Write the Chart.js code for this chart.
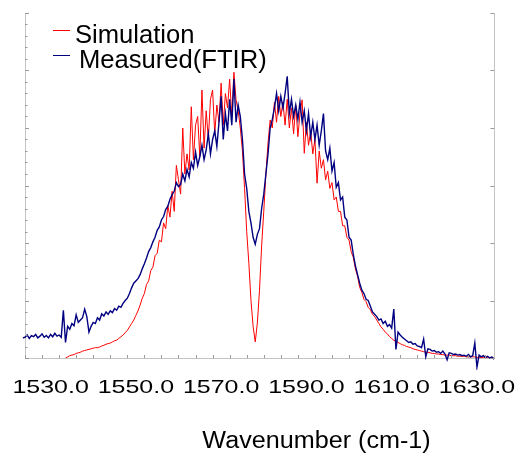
<!DOCTYPE html>
<html>
<head>
<meta charset="utf-8">
<script src="https://cdn.jsdelivr.net/npm/chart.js"></script>
<style>
  html, body { margin: 0; padding: 0; background: #fff; }
  #wrap { width: 520px; height: 453px; position: relative; }
</style>
</head>
<body>
<div id="wrap"><canvas id="chart"></canvas></div>
<script>
// wavenumber grid (cm-1), sampled every 0.5
const waveStep = 0.5;
const simStart = 1533.5;
const ftirStart = 1523.0;

// Simulation (red), from 1533.5 cm-1
const simValues = [
  0.00, 0.02, 0.04, 0.05, 0.06, 0.08, 0.09, 0.10, 0.12, 0.13,
  0.14, 0.15, 0.16, 0.17, 0.18, 0.18, 0.19, 0.21, 0.22, 0.24,
  0.25, 0.26, 0.28, 0.30, 0.31, 0.34, 0.37, 0.40, 0.44, 0.48,
  0.54, 0.60, 0.66, 0.74, 0.82, 0.92, 1.04, 1.12, 1.28, 1.34,
  1.52, 1.58, 1.78, 1.82, 2.05, 2.02, 2.35, 2.25, 2.65, 2.45,
  2.90, 2.55, 3.35, 3.10, 2.85, 4.00, 3.20, 3.55, 3.27, 4.37,
  3.45, 4.05, 4.20, 3.50, 4.66, 3.65, 4.30, 3.80, 4.50, 4.66,
  3.90, 4.40, 4.10, 4.78, 4.05, 4.60, 4.35, 4.85, 4.20, 4.97,
  4.49, 4.30, 4.00, 3.60, 2.95, 2.20, 1.65, 1.00, 0.55, 0.28,
  0.61, 1.18, 1.95, 2.55, 3.20, 3.74, 4.14, 4.00, 4.45, 4.10,
  4.55, 4.20, 4.45, 4.05, 4.50, 4.00, 4.35, 3.90, 4.40, 3.85,
  4.25, 4.49, 3.56, 4.10, 3.70, 3.95, 3.55, 3.80, 3.04, 3.60,
  3.30, 3.45, 3.10, 3.25, 2.95, 3.05, 2.75, 2.80, 2.55, 2.55,
  2.30, 2.30, 2.10, 2.05, 1.85, 1.75, 1.55, 1.42, 1.23, 1.14,
  1.02, 0.98, 0.88, 0.84, 0.76, 0.72, 0.66, 0.60, 0.54, 0.50,
  0.45, 0.42, 0.37, 0.34, 0.31, 0.29, 0.27, 0.25, 0.23, 0.22,
  0.20, 0.19, 0.18, 0.16, 0.15, 0.14, 0.13, 0.12, 0.11, 0.10,
  0.10, 0.09, 0.08, 0.08, 0.07, 0.07, 0.06, 0.06, 0.05, 0.05,
  0.05, 0.04, 0.04, 0.04, 0.03, 0.03, 0.03, 0.03, 0.02, 0.02,
  0.02, 0.02, 0.02, 0.01, 0.01, 0.01, 0.01, 0.01, 0.01, 0.00,
  0.00, 0.00
];

// Measured (FTIR, navy), from 1523.0 cm-1
const ftirValues = [
  0.38, 0.35, 0.36, 0.40, 0.34, 0.39, 0.37, 0.41, 0.35, 0.38,
  0.42, 0.36, 0.39, 0.35, 0.41, 0.37, 0.43, 0.38, 0.40, 0.36,
  0.83, 0.27, 0.55, 0.50, 0.60, 0.56, 0.75, 0.62, 0.66, 0.70,
  0.85, 0.72, 0.45, 0.55, 0.62, 0.60, 0.70, 0.66, 0.77, 0.73,
  0.80, 0.76, 0.82, 0.79, 0.86, 0.83, 0.90, 0.88, 0.95, 1.00,
  1.04, 1.12, 1.22, 1.30, 1.34, 1.38, 1.45, 1.55, 1.64, 1.74,
  1.85, 1.92, 2.02, 2.10, 2.22, 2.28, 2.40, 2.46, 2.58, 2.64,
  2.76, 2.84, 2.90, 3.05, 2.98, 3.02, 3.20, 3.08, 3.28, 3.15,
  3.40, 3.30, 3.58, 3.35, 3.50, 3.70, 3.45, 3.62, 3.90, 3.55,
  3.80, 3.95, 3.68, 4.10, 4.55, 3.80, 4.25, 3.95, 4.50, 4.05,
  4.85, 4.10, 4.40, 4.20, 3.80, 3.20, 2.95, 2.55, 2.35, 2.10,
  1.98, 2.15, 2.25, 2.60, 2.85, 3.20, 3.55, 4.00, 4.15, 4.35,
  4.60, 4.30, 4.55, 4.35, 4.60, 4.90, 4.25, 4.50, 4.20, 4.40,
  4.15, 4.45, 4.10, 4.30, 3.95, 4.25, 3.85, 4.10, 3.80, 4.05,
  3.70, 3.95, 4.25, 3.60, 3.45, 3.65, 3.25, 3.40, 2.97, 3.05,
  2.75, 2.80, 2.45, 2.40, 2.10, 2.05, 1.80, 1.60, 1.45, 1.30,
  1.18, 1.12, 1.02, 1.00, 0.90, 0.80, 0.76, 0.72, 0.66, 0.68,
  0.60, 0.64, 0.55, 0.58, 0.52, 0.85, 0.15, 0.45, 0.40, 0.36,
  0.33, 0.30, 0.27, 0.28, 0.24, 0.25, 0.21, 0.20, 0.18, 0.33,
  0.02, 0.16, 0.15, 0.12, 0.13, 0.10, 0.11, 0.08, 0.12, 0.07,
  -0.03, 0.09, 0.08, 0.06, 0.07, 0.05, 0.06, 0.04, 0.05, 0.03,
  0.06, 0.02, 0.04, 0.26, -0.16, 0.05, 0.02, 0.04, 0.01, 0.03,
  0.00, 0.02, -0.02
];

const xTickValues = [1530, 1550, 1570, 1590, 1610, 1630];
const xTickLabels = ['1530.0', '1550.0', '1570.0', '1590.0', '1610.0', '1630.0'];
const xTitle = 'Wavenumber (cm-1)';

const axisColor = '#c4c4c4';
const tickColor = '#9a9a9a';
const fontFamily = "'Liberation Sans', Arial, sans-serif";

const toPoints = (start, values) =>
  values.map((v, i) => ({ x: start + i * waveStep, y: v }));

// inward minor ticks, stretched tick labels, axis title and legend
const decorPlugin = {
  id: 'decor',
  afterDraw(chart) {
    const { ctx, chartArea: area, scales } = chart;
    const x = scales.x;
    const y = scales.y;
    ctx.save();

    ctx.strokeStyle = tickColor;
    ctx.lineWidth = 1;
    ctx.beginPath();
    for (let v = 1524; v <= 1634; v += 4) {
      const px = Math.round(x.getPixelForValue(v)) + 0.5;
      ctx.moveTo(px, area.bottom);
      ctx.lineTo(px, area.bottom - 3);
    }
    for (let i = 0; i <= 30; i++) {
      const py = Math.round(y.getPixelForValue(i * 0.2)) + 0.5;
      ctx.moveTo(area.left, py);
      ctx.lineTo(area.left + (i % 5 === 0 ? 4 : 2.5), py);
    }
    for (let i = 0; i <= 6; i++) {
      const py = Math.round(y.getPixelForValue(i)) + 0.5;
      ctx.moveTo(area.right, py);
      ctx.lineTo(area.right - 3.5, py);
    }
    ctx.stroke();

    ctx.fillStyle = '#000';
    ctx.textAlign = 'center';
    ctx.textBaseline = 'alphabetic';
    ctx.font = `18.5px ${fontFamily}`;
    xTickValues.forEach((v, i) => {
      ctx.save();
      ctx.translate(x.getPixelForValue(v), 393);
      ctx.scale(1.35, 1);
      ctx.fillText(xTickLabels[i], 0, 0);
      ctx.restore();
    });

    ctx.save();
    ctx.font = `23.3px ${fontFamily}`;
    ctx.translate(316.5, 448);
    ctx.scale(1.08, 1);
    ctx.fillText(xTitle, 0, 0);
    ctx.restore();

    ctx.textAlign = 'left';
    ctx.font = `25.6px ${fontFamily}`;
    const rows = [
      { lineY: 30.5, textX: 75, baseY: 43 },
      { lineY: 55.5, textX: 79, baseY: 68 },
    ];
    chart.data.datasets.forEach((ds, i) => {
      const r = rows[i];
      ctx.strokeStyle = ds.borderColor;
      ctx.lineWidth = 1;
      ctx.beginPath();
      ctx.moveTo(53, r.lineY);
      ctx.lineTo(70, r.lineY);
      ctx.stroke();
      ctx.fillStyle = '#000';
      ctx.fillText(ds.label, r.textX, r.baseY);
    });

    ctx.restore();
  },
};

new Chart(document.getElementById('chart'), {
  type: 'line',
  data: {
    datasets: [
      {
        label: 'Simulation',
        data: toPoints(simStart, simValues),
        borderColor: '#ff0000',
        borderWidth: 1,
        pointRadius: 0,
        tension: 0,
        order: 2,
      },
      {
        label: 'Measured(FTIR)',
        data: toPoints(ftirStart, ftirValues),
        borderColor: '#000080',
        borderWidth: 1.4,
        pointRadius: 0,
        tension: 0,
        order: 1,
        clip: { left: 8, top: 0, right: 4, bottom: 12 },
      },
    ],
  },
  options: {
    responsive: true,
    maintainAspectRatio: false,
    animation: false,
    layout: { padding: { left: 25, right: 26, top: 13, bottom: 95 } },
    plugins: {
      legend: { display: false },
      tooltip: { enabled: false },
    },
    scales: {
      x: {
        type: 'linear',
        min: 1524,
        max: 1634,
        ticks: { display: false },
        grid: { display: false, drawTicks: false },
        border: { display: true, color: axisColor, width: 1 },
      },
      y: {
        min: 0,
        max: 6,
        ticks: { display: false },
        grid: { display: false, drawTicks: false },
        border: { display: true, color: axisColor, width: 1 },
      },
      y2: {
        position: 'right',
        min: 0,
        max: 6,
        ticks: { display: false },
        grid: { display: false, drawTicks: false },
        border: { display: true, color: axisColor, width: 1 },
      },
    },
  },
  plugins: [decorPlugin],
});
</script>
</body>
</html>
